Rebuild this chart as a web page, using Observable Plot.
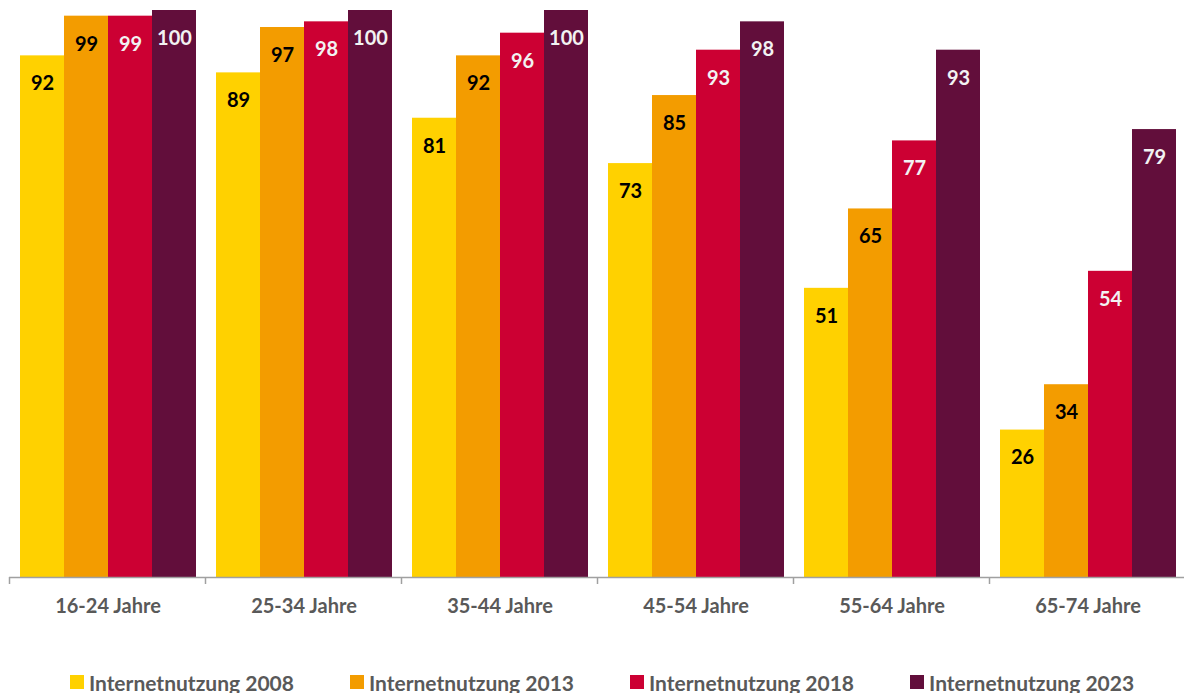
<!DOCTYPE html>
<html><head><meta charset="utf-8">
<script src="https://cdn.jsdelivr.net/npm/d3@7"></script>
<script src="https://cdn.jsdelivr.net/npm/@observablehq/plot@0.6"></script>
<style>
html,body{margin:0;padding:0;background:#fff;}
body{width:1184px;height:693px;overflow:hidden;font-family:Lato,"Open Sans",sans-serif;}
#legend{display:flex;justify-content:center;align-items:center;height:22px;margin-top:31px;padding-left:20px;}
.item{display:flex;align-items:center;font-weight:bold;font-size:21px;color:#595959;white-space:nowrap;}
.item + .item{margin-left:56px;}
.sw{width:14px;height:14px;margin-right:5px;}
</style></head><body><div id="chart"></div><div id="legend"></div>
<script>
const groups = ["16-24 Jahre","25-34 Jahre","35-44 Jahre","45-54 Jahre","55-64 Jahre","65-74 Jahre"];
const series = ["Internetnutzung 2008","Internetnutzung 2013","Internetnutzung 2018","Internetnutzung 2023"];
const v2008 = [92,89,81,73,51,26];
const v2013 = [99,97,92,85,65,34];
const v2018 = [99,98,96,93,77,54];
const v2023 = [100,100,100,98,93,79];
const colors = ["#FFD100","#F39C00","#CC0033","#620E3B"];
const darkLabelSeries = ["Internetnutzung 2008","Internetnutzung 2013"];

const valueLists = [v2008, v2013, v2018, v2023];
const data = [];
groups.forEach((g, gi) => series.forEach((s, si) => data.push({group: g, series: s, value: valueLists[si][gi]})));

const W = 1184, H = 640;
const plot = Plot.plot({
  width: W, height: H,
  marginLeft: 9, marginRight: -2, marginTop: 10, marginBottom: 63,
  style: {fontFamily: "Lato, 'Open Sans', sans-serif", background: "#fff", overflow: "visible"},
  fx: {domain: groups, paddingInner: 0.087, paddingOuter: 0.0435, label: null},
  x: {domain: series, padding: 0, axis: null},
  y: {domain: [0, 100], axis: null},
  color: {domain: series, range: colors},
  marks: [
    Plot.barY(data, {fx: "group", x: "series", y: "value", fill: "series"}),
    Plot.text(data.filter(d => darkLabelSeries.includes(d.series)), {fx: "group", x: "series", y: "value", text: d => String(d.value), dy: 28, fill: "#000", fontWeight: "bold", fontSize: 20}),
    Plot.text(data.filter(d => !darkLabelSeries.includes(d.series)), {fx: "group", x: "series", y: "value", text: d => String(d.value), dy: 28, fill: "#F2F2F2", fontWeight: "bold", fontSize: 20}),
    Plot.axisFx({anchor: "bottom", tickSize: 0, tickPadding: 21, fontSize: 20, fontWeight: "bold", fill: "#595959", label: null})
  ]
});
document.getElementById("chart").appendChild(plot);

// axis baseline with group-boundary ticks, positioned from Plot's own scales
const fx = plot.scale("fx"), ys = plot.scale("y");
const y0 = ys.apply(0);
const gap = fx.step - fx.bandwidth;
const svg = d3.select(plot);
const axisG = svg.append("g").attr("stroke", "#A0A0A0").attr("stroke-width", 1.5);
axisG.append("line").attr("x1", fx.range[0]).attr("x2", fx.range[1]).attr("y1", y0 + 0.5).attr("y2", y0 + 0.5);
const bounds = groups.map(g => fx.apply(g) - gap / 2);
bounds.push(fx.apply(groups[groups.length - 1]) + fx.bandwidth + gap / 2);
bounds.forEach(b => axisG.append("line").attr("x1", b).attr("x2", b).attr("y1", y0).attr("y2", y0 + 7));

const legend = d3.select("#legend");
series.forEach((s, i) => {
  const it = legend.append("div").attr("class", "item");
  it.append("div").attr("class", "sw").style("background", colors[i]);
  it.append("span").text(s);
});
</script>
</body></html>
